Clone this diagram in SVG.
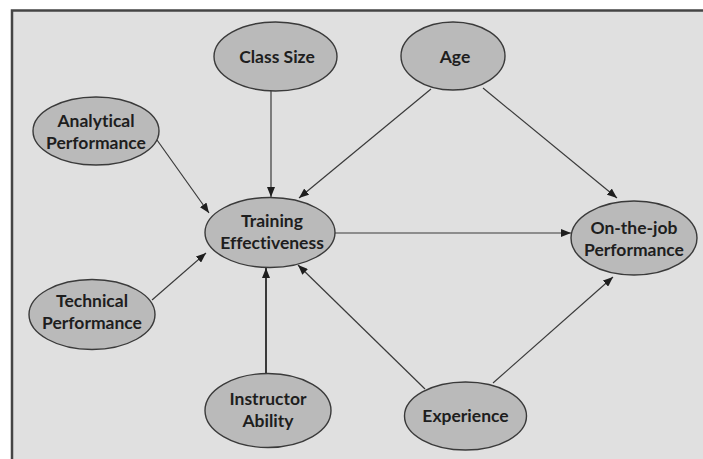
<svg xmlns="http://www.w3.org/2000/svg" width="703" height="459" viewBox="0 0 703 459">
  <style>
    .node ellipse { fill: #bababa; stroke: #3a3a3a; stroke-width: 1.4; }
    .node text { font-family: "Lato", "Open Sans", "DejaVu Sans", sans-serif; font-weight: bold; font-size: 17.5px; fill: #1e1e1e; text-anchor: middle; font-variant-ligatures: none; font-feature-settings: "liga" 0, "dlig" 0; }
    .edges line { stroke: #3a3a3a; stroke-width: 1.2; marker-end: url(#arrow); }
    .edges line.thick { stroke-width: 2; }
  </style>
  <defs>
    <marker id="arrow" viewBox="0 0 10 8" refX="10" refY="4" markerWidth="10" markerHeight="8" markerUnits="userSpaceOnUse" orient="auto">
      <path d="M0,0 L10,4 L0,8 Z" fill="#1e1e1e"/>
    </marker>
  </defs>

  <!-- page and frame -->
  <rect x="0" y="0" width="703" height="459" fill="#ffffff"/>
  <rect x="12" y="10.5" width="720" height="480" fill="#e0e0e0" stroke="#454545" stroke-width="2.5"/>

  <!-- connectors -->
  <g id="edges" class="edges">
    <line x1="271" y1="91" x2="271" y2="197"/>
    <line x1="431" y1="89" x2="299" y2="198"/>
    <line x1="483" y1="88" x2="617" y2="198"/>
    <line x1="157" y1="140" x2="209" y2="213"/>
    <line x1="152" y1="300" x2="206" y2="253"/>
    <line class="thick" x1="266" y1="373" x2="266" y2="268"/>
    <line x1="425" y1="389" x2="298" y2="265"/>
    <line x1="493" y1="383" x2="613" y2="277"/>
    <line x1="335" y1="233" x2="571" y2="233"/>
  </g>

  <!-- nodes -->
  <g id="class-size" class="node">
    <ellipse cx="275.5" cy="56.5" rx="61.5" ry="34.5"/>
    <text x="277" y="63">Class Size</text>
  </g>
  <g id="age" class="node">
    <ellipse cx="453" cy="56" rx="52" ry="34"/>
    <text x="455" y="63">Age</text>
  </g>
  <g id="analytical-performance" class="node">
    <ellipse cx="96" cy="131" rx="63" ry="34"/>
    <text x="96" y="127">Analytical</text>
    <text x="96" y="149">Performance</text>
  </g>
  <g id="training-effectiveness" class="node">
    <ellipse cx="270" cy="232.5" rx="65" ry="35"/>
    <text x="272" y="227">Training</text>
    <text x="272" y="249">Effectiveness</text>
  </g>
  <g id="on-the-job-performance" class="node">
    <ellipse cx="634" cy="238" rx="63" ry="37"/>
    <text x="634" y="234">On-the-job</text>
    <text x="634" y="256">Performance</text>
  </g>
  <g id="technical-performance" class="node">
    <ellipse cx="92" cy="314.5" rx="63" ry="35"/>
    <text x="92" y="307">Technical</text>
    <text x="92" y="329">Performance</text>
  </g>
  <g id="instructor-ability" class="node">
    <ellipse cx="268" cy="410.5" rx="63" ry="37"/>
    <text x="268" y="405">Instructor</text>
    <text x="268" y="427">Ability</text>
  </g>
  <g id="experience" class="node">
    <ellipse cx="465.5" cy="416" rx="61" ry="34"/>
    <text x="465.5" y="422">Experience</text>
  </g>
</svg>
